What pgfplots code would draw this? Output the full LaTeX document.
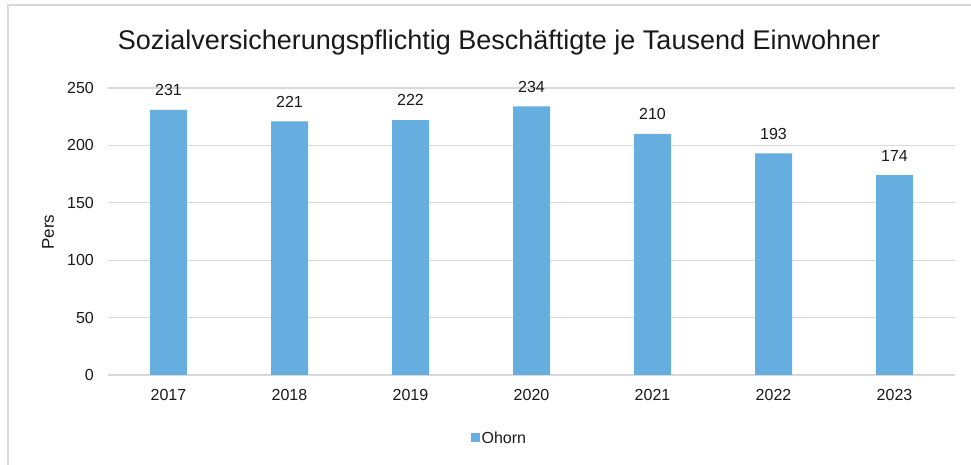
\documentclass[border=0pt]{standalone}
\usepackage{pgfplots}
\pgfplotsset{compat=1.18}
\usepackage{fontspec}
\setmainfont{Liberation Sans}
\definecolor{barblue}{HTML}{66AEE0}
\definecolor{gridgray}{HTML}{D9D9D9}
\begin{document}
\begin{tikzpicture}[x=1pt,y=1pt]
\path[use as bounding box] (0,0) rectangle (971,465);
\draw[gridgray, line width=2pt] (8,0) -- (8,460) -- (971,460);
\begin{axis}[
  at={(108pt,90pt)}, anchor=south west,
  scale only axis, width=847pt, height=287pt,
  xmin=-0.5, xmax=6.5, ymin=0, ymax=250,
  xtick=data, xticklabels={2017,2018,2019,2020,2021,2022,2023},
  ytick={0,50,100,150,200,250},
  ymajorgrids, major grid style={gridgray, line width=1.2pt},
  axis line style={draw=none},
  major tick length=0pt,
  /pgf/number format/assume math mode=true,
  tick label style={font=\fontsize{16}{19}\selectfont, inner sep=0pt, text=black!90},
  yticklabel style={anchor=east, xshift=-14pt},
  xticklabel style={anchor=north, yshift=-14pt},
  ybar, bar width=37pt,
  nodes near coords,
  nodes near coords style={font=\fontsize{16}{19}\selectfont, anchor=south, inner sep=0pt, yshift=14pt, text=black!90},
  legend style={at={(0.462,-0.2195)}, anchor=center, draw=none, fill=none,
    font=\fontsize{16}{19}\selectfont, inner sep=0pt, text=black!90},
  legend image code/.code={\fill[barblue] (0pt,-4.5pt) rectangle (9pt,4.5pt);},
  legend cell align=left,
  clip=false,
]
\addplot[fill=barblue, draw=none] coordinates {(0,231) (1,221) (2,222) (3,234) (4,210) (5,193) (6,174)};
\addlegendentry{Ohorn}
\end{axis}
\node[font=\fontsize{27}{32}\selectfont, text=black!90] at (499,422) {Sozialversicherungspflichtig Beschäftigte je Tausend Einwohner};
\node[font=\fontsize{17}{20}\selectfont, rotate=90, text=black!90] at (48,233) {Pers};
\end{tikzpicture}
\end{document}
